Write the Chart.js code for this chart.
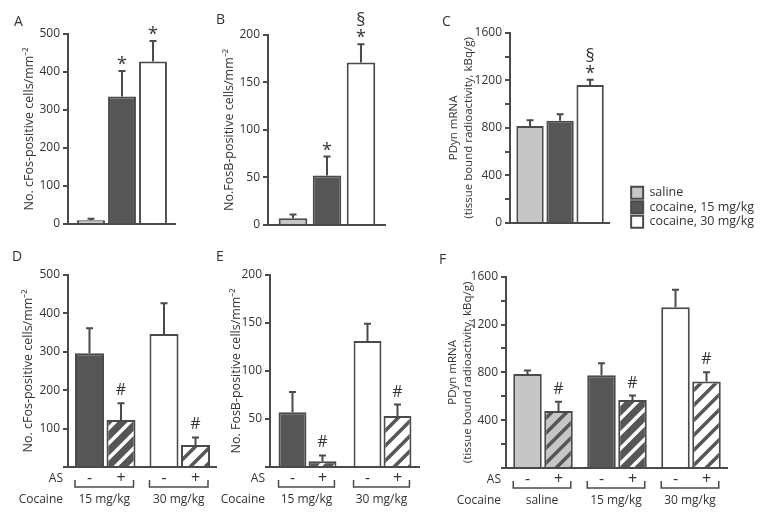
<!DOCTYPE html>
<html>
<head>
<meta charset="utf-8">
<script src="https://cdn.jsdelivr.net/npm/chart.js@4/dist/chart.umd.min.js"></script>
<style>
  html, body { margin: 0; padding: 0; background: #fff; overflow: hidden; }
  body { width: 766px; height: 519px; position: relative; }
  canvas { position: absolute; }
</style>
</head>
<body>
<canvas id="cA"></canvas>
<canvas id="cB"></canvas>
<canvas id="cC"></canvas>
<canvas id="cD"></canvas>
<canvas id="cE"></canvas>
<canvas id="cF"></canvas>
<script>
// --- data ---
const doses = ['saline', 'cocaine, 15 mg/kg', 'cocaine, 30 mg/kg']
const asSigns = ['-', '+']
const rowTitles = ['AS', 'Cocaine']

const aMean = [10, 335, 427]
const aSem = [4, 67, 54]
const aNote = ['', '*', '*']

const bMean = [7, 52, 171]
const bSem = [4, 20, 19]
const bNote = ['', '*', '§*']

const cMean = [815, 860, 1160]
const cSem = [50, 55, 45]
const cNote = ['', '', '§*']

const dGroups = ['15 mg/kg', '30 mg/kg']
const dMinus = [296, 346]
const dMinusSem = [65, 80]
const dPlus = [122, 57]
const dPlusSem = [44, 20]
const dPlusNote = ['#', '#']

const eGroups = ['15 mg/kg', '30 mg/kg']
const eMinus = [57, 131]
const eMinusSem = [21, 18]
const ePlus = [6, 53]
const ePlusSem = [6, 12]
const ePlusNote = ['#', '#']

const fGroups = ['saline', '15 mg/kg', '30 mg/kg']
const fMinus = [787, 776, 1346]
const fMinusSem = [28, 100, 145]
const fPlus = [477, 570, 723]
const fPlusSem = [78, 36, 78]
const fPlusNote = ['#', '#', '#']

const cfosTicks = [0, 100, 200, 300, 400, 500]
const fosbTicks = [0, 50, 100, 150, 200]
const pdynTicks = [0, 400, 800, 1200, 1600]
const cfosTicksNoZero = [100, 200, 300, 400, 500]
const fosbTicksNoZero = [50, 100, 150, 200]
const pdynTicksNoZero = [400, 800, 1200, 1600]

const cfosTitle = 'No. cFos-positive cells/mm⁻²'
const fosbTitleTop = 'No.FosB-positive cells/mm⁻²'
const fosbTitle = 'No. FosB-positive cells/mm⁻²'
const pdynTitle = ['PDyn mRNA', '(tissue bound radioactivity, kBq/g)']

// --- look ---
const FONT = "'Open Sans', sans-serif"
const INK = '#333333'
const EDGE = '#4a4a4a'
const LIGHT = '#c6c6c6'
const DARK = '#565656'
const WHITE = '#ffffff'

Chart.defaults.font.family = FONT
Chart.defaults.color = INK

function hatch (bg, fg) {
  const c = document.createElement('canvas')
  c.width = c.height = 15
  const x = c.getContext('2d')
  x.fillStyle = bg
  x.fillRect(0, 0, 15, 15)
  x.strokeStyle = fg
  x.lineWidth = 3.5
  x.beginPath()
  x.moveTo(-4, 19); x.lineTo(19, -4)
  x.moveTo(-4, 4); x.lineTo(4, -4)
  x.moveTo(11, 19); x.lineTo(19, 11)
  x.stroke()
  return x.createPattern(c, 'repeat')
}

// significance marks: font size, lift above what is below, glyph height
const marks = {
  '*': { size: 18, gap: 1, h: 13 },
  '§': { size: 18, gap: 4, h: 14 },
  '#': { size: 16, gap: 8, h: 12 }
}

const errorBars = {
  id: 'errorBars',
  afterDatasetsDraw (chart) {
    const ctx = chart.ctx
    const y = chart.scales.y
    ctx.save()
    chart.data.datasets.forEach((ds, i) => {
      chart.getDatasetMeta(i).data.forEach((bar, j) => {
        const top = y.getPixelForValue(ds.data[j] + ds.sem[j])
        ctx.strokeStyle = EDGE
        ctx.lineWidth = 2
        ctx.beginPath()
        ctx.moveTo(bar.x, bar.y)
        ctx.lineTo(bar.x, top)
        ctx.moveTo(bar.x - 3.5, top)
        ctx.lineTo(bar.x + 3.5, top)
        ctx.stroke()
        let py = top
        ctx.fillStyle = INK
        ctx.textAlign = 'center'
        ctx.textBaseline = 'alphabetic'
        for (const s of [...(ds.note[j] || '')].reverse()) {
          const m = marks[s]
          py -= m.gap
          ctx.font = m.size + 'px ' + FONT
          ctx.fillText(s, bar.x, py)
          py -= m.h
        }
      })
    })
    ctx.restore()
  }
}

const doseRows = {
  id: 'doseRows',
  afterDraw (chart, args, opts) {
    if (!opts.titles) return
    const ctx = chart.ctx
    const area = chart.chartArea
    const y1 = area.bottom + 12
    const yb = area.bottom + 20
    const y2 = area.bottom + 33
    ctx.save()
    ctx.fillStyle = INK
    ctx.strokeStyle = EDGE
    ctx.lineWidth = 1.5
    ctx.textBaseline = 'middle'
    ctx.textAlign = 'right'
    ctx.font = '12px ' + FONT
    ctx.fillText(opts.titles[0], area.left - 5, y1)
    ctx.fillText(opts.titles[1], area.left - 5, y2)
    ctx.textAlign = 'center'
    const metas = chart.data.datasets.map((d, i) => chart.getDatasetMeta(i))
    chart.data.labels.forEach((lab, j) => {
      ctx.font = '16px ' + FONT
      metas.forEach((m, i) => ctx.fillText(chart.data.datasets[i].label, m.data[j].x, y1 - 1))
      const first = metas[0].data[j]
      const last = metas[metas.length - 1].data[j]
      const l = first.x - first.width / 2
      const r = last.x + last.width / 2 - 2
      ctx.beginPath()
      ctx.moveTo(l, yb - 7); ctx.lineTo(l, yb); ctx.lineTo(r, yb); ctx.lineTo(r, yb - 7)
      ctx.stroke()
      ctx.font = '12px ' + FONT
      ctx.fillText(lab, (l + r) / 2, y2)
    })
    ctx.restore()
  }
}

function yAxis (max, step, labels, title, o) {
  return {
    min: 0,
    max,
    ticks: {
      stepSize: step,
      autoSkip: false,
      padding: 3,
      color: INK,
      font: { size: 12 },
      callback: v => labels.includes(v) ? String(v) : ''
    },
    grid: {
      drawOnChartArea: true,
      color: c => (c.tick && c.tick.value === 0) ? EDGE : 'rgba(0,0,0,0)',
      tickColor: EDGE,
      tickLength: 5,
      lineWidth: 2
    },
    border: { color: EDGE, width: 2 },
    title: {
      display: true,
      text: title,
      color: INK,
      font: { size: o.titleSize, lineHeight: 1.3 },
      padding: { top: o.titlePad, bottom: 0 }
    },
    afterFit: s => { s.width = o.width }
  }
}

function panel (id, box, letter, letterPad, data, scales, pad, extra) {
  const el = document.getElementById(id)
  el.width = box.w
  el.height = box.h
  el.style.left = box.x + 'px'
  el.style.top = box.y + 'px'
  return new Chart(el, {
    type: 'bar',
    data,
    options: {
      responsive: false,
      animation: false,
      events: [],
      layout: { padding: pad },
      scales,
      plugins: Object.assign({
        legend: { display: false },
        tooltip: { enabled: false },
        title: {
          display: true,
          text: letter,
          align: 'start',
          color: INK,
          font: { size: 14, weight: 'normal', lineHeight: 1.2 },
          padding: letterPad
        }
      }, extra || {})
    },
    plugins: [errorBars, doseRows]
  })
}

const hiddenX = { display: false }
const fills = [LIGHT, DARK, WHITE]

function doseSets (mean, sem, note, cp, bp) {
  return doses.map((d, i) => ({
    label: d,
    data: [mean[i]],
    sem: [sem[i]],
    note: [note[i]],
    backgroundColor: fills[i],
    borderColor: EDGE,
    borderWidth: 2,
    categoryPercentage: cp,
    barPercentage: bp
  }))
}

function asSets (minus, minusSem, plus, plusSem, plusNote, fillMinus, fillPlus, cp, bp) {
  return [
    { label: asSigns[0], data: minus, sem: minusSem, note: minus.map(() => ''),
      backgroundColor: fillMinus, borderColor: EDGE, borderWidth: 2, categoryPercentage: cp, barPercentage: bp },
    { label: asSigns[1], data: plus, sem: plusSem, note: plusNote,
      backgroundColor: fillPlus, borderColor: EDGE, borderWidth: 2, categoryPercentage: cp, barPercentage: bp }
  ]
}

// A
panel('cA', { x: 14, y: 0, w: 180, h: 240 }, 'A', { top: 14, bottom: 3 },
  { labels: [''], datasets: doseSets(aMean, aSem, aNote, 0.861, 0.9) },
  { x: hiddenX, y: yAxis(500, 100, cfosTicks, cfosTitle, { width: 54, titlePad: 7, titleSize: 12.5 }) },
  { left: 0, right: 18, top: 0, bottom: 16 })

// B
panel('cB', { x: 216, y: 0, w: 184, h: 240 }, 'B', { top: 12, bottom: 6 },
  { labels: [''], datasets: doseSets(bMean, bSem, bNote, 0.864, 0.84) },
  { x: hiddenX, y: yAxis(200, 50, fosbTicks, fosbTitleTop, { width: 52, titlePad: 5, titleSize: 12.5 }) },
  { left: 0, right: 14, top: 0, bottom: 15 })

// C (carries the legend)
const meas = document.createElement('canvas').getContext('2d')
meas.font = '12.5px ' + FONT
const legendW = Math.ceil(2 + 12 + 6.25 + Math.max(...doses.map(d => meas.measureText(d).width)) + 10)
panel('cC', { x: 442, y: 0, w: 187 + legendW, h: 240 }, 'C', { top: 14, bottom: 2 },
  { labels: [''], datasets: doseSets(cMean, cSem, cNote, 0.9, 0.91) },
  {
    x: { display: true, grid: { display: false }, ticks: { display: false }, border: { display: false }, afterFit: s => { s.height = 7 } },
    y: yAxis(1600, 200, pdynTicks, pdynTitle, { width: 68, titlePad: 4, titleSize: 11.5 }),
    gap: { type: 'linear', position: 'right', display: true, grid: { display: false }, ticks: { display: false }, border: { display: false }, afterFit: s => { s.width = 19 } }
  },
  { left: 0, right: 0, top: 0, bottom: 10 },
  {
    legend: {
      display: true,
      position: 'right',
      align: 'end',
      maxWidth: 400,
      labels: { boxWidth: 12, boxHeight: 12, padding: 2, color: INK, font: { size: 12.5 } }
    }
  })

// D
panel('cD', { x: 12, y: 240, w: 215, h: 279 }, 'D', { top: 9, bottom: 9 },
  { labels: dGroups, datasets: asSets(dMinus, dMinusSem, dPlus, dPlusSem, dPlusNote,
    [DARK, WHITE], [hatch(DARK, WHITE), hatch(WHITE, DARK)], 0.846, 0.92) },
  { x: hiddenX, y: yAxis(500, 100, cfosTicksNoZero, cfosTitle, { width: 56, titlePad: 8, titleSize: 12.5 }) },
  { left: 0, right: 10, top: 0, bottom: 52 },
  { doseRows: { titles: rowTitles } })

// E
panel('cE', { x: 216, y: 240, w: 214, h: 279 }, 'E', { top: 9, bottom: 9 },
  { labels: eGroups, datasets: asSets(eMinus, eMinusSem, ePlus, ePlusSem, ePlusNote,
    [DARK, WHITE], [hatch(DARK, WHITE), hatch(WHITE, DARK)], 0.8, 0.93) },
  { x: hiddenX, y: yAxis(200, 50, fosbTicksNoZero, fosbTitle, { width: 54, titlePad: 12, titleSize: 12.5 }) },
  { left: 0, right: 10, top: 0, bottom: 52 },
  { doseRows: { titles: rowTitles } })

// F
panel('cF', { x: 439, y: 240, w: 327, h: 279 }, 'F', { top: 12, bottom: 8 },
  { labels: fGroups, datasets: asSets(fMinus, fMinusSem, fPlus, fPlusSem, fPlusNote,
    [LIGHT, DARK, WHITE], [hatch(LIGHT, DARK), hatch(DARK, WHITE), hatch(WHITE, DARK)], 0.838, 0.92) },
  { x: hiddenX, y: yAxis(1600, 200, pdynTicksNoZero, pdynTitle, { width: 67, titlePad: 6, titleSize: 11.5 }) },
  { left: 0, right: 38, top: 0, bottom: 51 },
  { doseRows: { titles: rowTitles } })
</script>
</body>
</html>
